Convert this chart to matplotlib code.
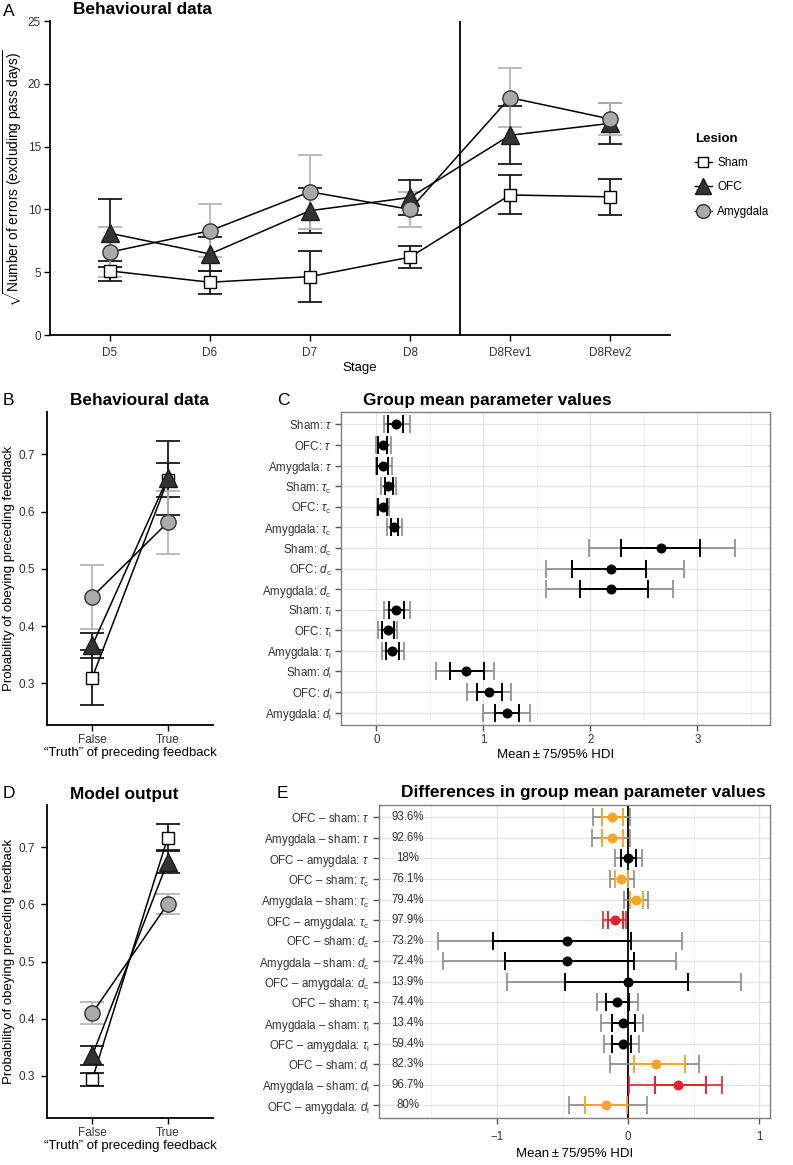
import matplotlib.pyplot as plt
from matplotlib.lines import Line2D
from matplotlib.ticker import MultipleLocator
import numpy as np

plt.rcParams['font.family'] = ['Liberation Sans', 'DejaVu Sans']
plt.rcParams['mathtext.fontset'] = 'custom'
plt.rcParams['mathtext.rm'] = 'Liberation Sans'
plt.rcParams['mathtext.it'] = 'Liberation Sans:italic'
plt.rcParams['mathtext.bf'] = 'Liberation Sans:bold'

# ---- panel A: errors per stage (mean, sem)
stages = ["D5", "D6", "D7", "D8", "D8Rev1", "D8Rev2"]
sham_err = [5.1, 4.2, 4.65, 6.2, 11.15, 11.0]
sham_err_se = [0.8, 0.93, 2.05, 0.9, 1.55, 1.45]
ofc_err = [8.1, 6.45, 9.9, 10.95, 15.9, 16.85]
ofc_err_se = [2.7, 1.35, 1.8, 1.42, 2.3, 1.62]
amy_err = [6.6, 8.3, 11.4, 10.0, 18.9, 17.2]
amy_err_se = [2.0, 2.1, 2.95, 1.38, 2.35, 1.25]

# ---- panels B / D: probability of obeying preceding feedback
truth_levels = ["False", "True"]
sham_beh = [0.31, 0.655]
sham_beh_se = [0.048, 0.03]
ofc_beh = [0.366, 0.659]
ofc_beh_se = [0.022, 0.065]
amy_beh = [0.451, 0.581]
amy_beh_se = [0.056, 0.055]

sham_mod = [0.294, 0.717]
sham_mod_se = [0.012, 0.023]
ofc_mod = [0.336, 0.675]
ofc_mod_se = [0.017, 0.02]
amy_mod = [0.410, 0.601]
amy_mod_se = [0.019, 0.017]

# ---- panel C: group mean parameter values (mean, 75% HDI, 95% HDI)
c_labels = ["Sham: $\\tau$", "OFC: $\\tau$", "Amygdala: $\\tau$",
            "Sham: $\\tau_\\mathrm{c}$", "OFC: $\\tau_\\mathrm{c}$", "Amygdala: $\\tau_\\mathrm{c}$",
            "Sham: $d_\\mathrm{c}$", "OFC: $d_\\mathrm{c}$", "Amygdala: $d_\\mathrm{c}$",
            "Sham: $\\tau_\\mathrm{l}$", "OFC: $\\tau_\\mathrm{l}$", "Amygdala: $\\tau_\\mathrm{l}$",
            "Sham: $d_\\mathrm{l}$", "OFC: $d_\\mathrm{l}$", "Amygdala: $d_\\mathrm{l}$"]
c_mean = [0.184, 0.062, 0.062, 0.109, 0.059, 0.168, 2.661, 2.19, 2.19,
          0.187, 0.109, 0.150, 0.842, 1.055, 1.22]
c_lo75 = [0.112, 0.016, 0.009, 0.078, 0.016, 0.134, 2.29, 1.828, 1.903,
          0.115, 0.053, 0.094, 0.693, 0.945, 1.108]
c_hi75 = [0.253, 0.100, 0.106, 0.153, 0.100, 0.203, 3.023, 2.524, 2.543,
          0.256, 0.162, 0.209, 1.005, 1.179, 1.335]
c_lo95 = [0.069, 0.0, -0.003, 0.044, 0.006, 0.100, 1.988, 1.588, 1.588,
          0.069, 0.012, 0.056, 0.555, 0.849, 0.995]
c_hi95 = [0.312, 0.137, 0.147, 0.181, 0.119, 0.237, 3.357, 2.877, 2.771,
          0.318, 0.193, 0.256, 1.101, 1.260, 1.435]

# ---- panel E: differences in group means
e_labels = ["OFC \u2013 sham: $\\tau$", "Amygdala \u2013 sham: $\\tau$", "OFC \u2013 amygdala: $\\tau$",
            "OFC \u2013 sham: $\\tau_\\mathrm{c}$", "Amygdala \u2013 sham: $\\tau_\\mathrm{c}$",
            "OFC \u2013 amygdala: $\\tau_\\mathrm{c}$",
            "OFC \u2013 sham: $d_\\mathrm{c}$", "Amygdala \u2013 sham: $d_\\mathrm{c}$",
            "OFC \u2013 amygdala: $d_\\mathrm{c}$",
            "OFC \u2013 sham: $\\tau_\\mathrm{l}$", "Amygdala \u2013 sham: $\\tau_\\mathrm{l}$",
            "OFC \u2013 amygdala: $\\tau_\\mathrm{l}$",
            "OFC \u2013 sham: $d_\\mathrm{l}$", "Amygdala \u2013 sham: $d_\\mathrm{l}$",
            "OFC \u2013 amygdala: $d_\\mathrm{l}$"]
e_pct = ["93.6%", "92.6%", "18%", "76.1%", "79.4%", "97.9%", "73.2%", "72.4%",
         "13.9%", "74.4%", "13.4%", "59.4%", "82.3%", "96.7%", "80%"]
e_mean = [-0.122, -0.122, 0.0, -0.051, 0.059, -0.102, -0.467, -0.467, 0.0,
          -0.082, -0.038, -0.043, 0.212, 0.383, -0.166]
e_lo75 = [-0.196, -0.196, -0.051, -0.097, 0.013, -0.156, -1.026, -0.936, -0.48,
          -0.166, -0.125, -0.12, 0.043, 0.204, -0.332]
e_hi75 = [-0.043, -0.043, 0.056, 0.0, 0.115, -0.043, 0.02, 0.043, 0.454,
          0.005, 0.051, 0.02, 0.429, 0.594, -0.008]
e_lo95 = [-0.265, -0.276, -0.097, -0.14, -0.033, -0.194, -1.449, -1.411, -0.923,
          -0.235, -0.204, -0.184, -0.135, 0.008, -0.452]
e_hi95 = [0.015, 0.015, 0.107, 0.041, 0.151, -0.018, 0.408, 0.367, 0.857,
          0.071, 0.115, 0.084, 0.541, 0.714, 0.145]
e_sig = ["75", "75", "none", "75", "75", "95", "none", "none", "none",
         "none", "none", "none", "75", "95", "75"]

ORANGE = '#f7a628'
RED = '#e8222a'
GREY_BAR = '#8a8a8a'
TICK_COL = '#333333'

groups = [
    dict(name='Sham', marker='s', mfc='white', mec='black', ms=8.5, ecol='#1a1a1a'),
    dict(name='OFC', marker='^', mfc='#333333', mec='#1a1a1a', ms=13, ecol='#1a1a1a'),
    dict(name='Amygdala', marker='o', mfc='#aaaaaa', mec='#333333', ms=11, ecol='#b5b5b5'),
]

fig = plt.figure(figsize=(7.93, 11.65), dpi=100)


def classic(ax):
    for s in ['top', 'right']:
        ax.spines[s].set_visible(False)
    for s in ['left', 'bottom']:
        ax.spines[s].set_linewidth(1.3)
        ax.spines[s].set_color('black')
    ax.tick_params(direction='out', length=4.5, width=1, color='black',
                   labelcolor=TICK_COL, labelsize=8.5, pad=2)


def group_lines(ax, x, means, ses):
    for g, m, s in zip(groups, means, ses):
        ax.errorbar(x, m, yerr=s, fmt='none', ecolor=g['ecol'], capsize=8.5,
                    elinewidth=1.3, capthick=1.3, zorder=2)
    for m in means:
        ax.plot(x, m, color='black', lw=1.1, zorder=3)
    for g, m in zip(groups, means):
        ax.plot(x, m, linestyle='none', marker=g['marker'], mfc=g['mfc'],
                mec=g['mec'], mew=1.0, ms=g['ms'], zorder=4)


# ---------------- A
axA = fig.add_axes([50 / 793, 1 - 335 / 1165, 620 / 793, 314 / 1165])
classic(axA)
xs = np.arange(1, len(stages) + 1)
group_lines(axA, xs, [sham_err, ofc_err, amy_err], [sham_err_se, ofc_err_se, amy_err_se])
axA.axvline(4.5, color='black', lw=1.3, zorder=1)
axA.set_xlim(0.4, 6.6)
axA.set_ylim(0, 25)
axA.set_xticks(xs)
axA.set_xticklabels(stages)
axA.set_yticks([0, 5, 10, 15, 20, 25])
axA.tick_params(axis='x', pad=4)
axA.set_xlabel("Stage", fontsize=9.5, labelpad=2)
axA.set_ylabel("$\\sqrt{\\mathrm{Number\\ of\\ errors\\ (excluding\\ pass\\ days)}}$",
               fontsize=9.8, labelpad=3)

handles = [Line2D([], [], color='black', lw=1.0, marker=g['marker'], mfc=g['mfc'],
                  mec=g['mec'], ms=g['ms'] * 0.9) for g in groups]
leg = fig.legend(handles, [g['name'] for g in groups], title='Lesion',
                 loc='upper left', bbox_to_anchor=(684 / 793, 1 - 122 / 1165),
                 frameon=False, fontsize=8.5, handlelength=1.5, handletextpad=0.4,
                 labelspacing=1.05, alignment='left',
                 title_fontproperties={'weight': 'bold', 'size': 9.5})

# ---------------- B and D
def prob_panel(rect, means, ses):
    ax = fig.add_axes(rect)
    classic(ax)
    x = np.arange(1, 3)
    group_lines(ax, x, means, ses)
    ax.set_xlim(0.4, 2.6)
    ax.set_ylim(0.227, 0.774)
    ax.set_xticks(x)
    ax.set_xticklabels(truth_levels)
    ax.set_yticks([0.3, 0.4, 0.5, 0.6, 0.7])
    ax.tick_params(axis='y', pad=4)
    ax.set_xlabel("\u201cTruth\u201d of preceding feedback", fontsize=9.5, labelpad=1)
    ax.set_ylabel("Probability of obeying preceding feedback", fontsize=9.5, labelpad=3)
    return ax


axB = prob_panel([47 / 793, 1 - 725 / 1165, 166 / 793, 313 / 1165],
                 [sham_beh, ofc_beh, amy_beh], [sham_beh_se, ofc_beh_se, amy_beh_se])
axD = prob_panel([47 / 793, 1 - 1117.7 / 1165, 166 / 793, 312.7 / 1165],
                 [sham_mod, ofc_mod, amy_mod], [sham_mod_se, ofc_mod_se, amy_mod_se])


# ---------------- C and E
def bw(ax):
    for s in ax.spines.values():
        s.set_color('#7f7f7f')
        s.set_linewidth(1.0)
    ax.set_axisbelow(True)
    ax.grid(True, which='major', color='#e3e3e3', lw=0.9)
    ax.grid(True, which='minor', axis='x', color='#f0f0f0', lw=0.6)
    ax.tick_params(axis='both', which='major', direction='out', length=4.5, width=1,
                   color='#555555', labelcolor=TICK_COL, labelsize=8.3, pad=2)
    ax.tick_params(axis='both', which='minor', length=0)


def interval_rows(ax, mean, lo75, hi75, lo95, hi95, outer_cols, inner_cols):
    n = len(mean)
    y = np.arange(n, 0, -1)
    for i in range(n):
        ax.errorbar(mean[i], y[i], xerr=[[mean[i] - lo95[i]], [hi95[i] - mean[i]]],
                    fmt='none', ecolor=outer_cols[i], elinewidth=1.2, capsize=6.5,
                    capthick=1.2, zorder=3)
        ax.errorbar(mean[i], y[i], xerr=[[mean[i] - lo75[i]], [hi75[i] - mean[i]]],
                    fmt='none', ecolor=inner_cols[i], elinewidth=1.4, capsize=6.5,
                    capthick=1.4, zorder=4)
        ax.plot(mean[i], y[i], 'o', color=inner_cols[i], ms=6.2, zorder=5)
    ax.set_ylim(0.4, n + 0.6)
    ax.set_yticks(y)
    return y


hdi_label = "Mean\u2009\u00b1\u200975/95% HDI"

axC = fig.add_axes([341 / 793, 1 - 725 / 1165, 429 / 793, 313 / 1165])
bw(axC)
yc = interval_rows(axC, c_mean, c_lo75, c_hi75, c_lo95, c_hi95,
                   [GREY_BAR] * len(c_mean), ['black'] * len(c_mean))
axC.set_yticklabels(c_labels)
axC.set_xlim(-0.33, 3.68)
axC.set_xticks([0, 1, 2, 3])
axC.xaxis.set_minor_locator(MultipleLocator(0.5))
axC.set_xlabel(hdi_label, fontsize=9.5, labelpad=2)

axE = fig.add_axes([378.7 / 793, 1 - 1117.7 / 1165, 391.3 / 793, 312.7 / 1165])
bw(axE)
inner_map = {'none': 'black', '75': ORANGE, '95': RED}
outer_map = {'none': GREY_BAR, '75': GREY_BAR, '95': RED}
axE.axvline(0, color='black', lw=1.3, zorder=2)
ye = interval_rows(axE, e_mean, e_lo75, e_hi75, e_lo95, e_hi95,
                   [outer_map[s] for s in e_sig], [inner_map[s] for s in e_sig])
axE.set_yticklabels(e_labels)
for yy, p in zip(ye, e_pct):
    axE.text(-1.678, yy, p, ha='center', va='center', fontsize=8.3, color=TICK_COL)
axE.set_xlim(-1.9, 1.08)
axE.set_xticks([-1, 0, 1])
axE.set_xticklabels(["\u22121", "0", "1"])
axE.xaxis.set_minor_locator(MultipleLocator(0.5))
axE.tick_params(axis='x', pad=5)
axE.set_xlabel(hdi_label, fontsize=9.5, labelpad=4)

# ---------------- titles and panel letters
def title(xpx, ypx, s):
    fig.text(xpx / 793, 1 - ypx / 1165, s, ha='left', va='center',
             fontsize=12.4, fontweight='bold')


def letter(xpx, ypx, s):
    fig.text(xpx / 793, 1 - ypx / 1165, s, ha='left', va='center', fontsize=12.5)


title(73, 10, "Behavioural data")
title(70, 400, "Behavioural data")
title(363, 400, "Group mean parameter values")
title(70, 794, "Model output")
title(401, 793, "Differences in group mean parameter values")
letter(3, 11, "A")
letter(3, 400, "B")
letter(277, 400, "C")
letter(3, 793, "D")
letter(277, 793, "E")

fig.savefig("out.png", dpi=100)
